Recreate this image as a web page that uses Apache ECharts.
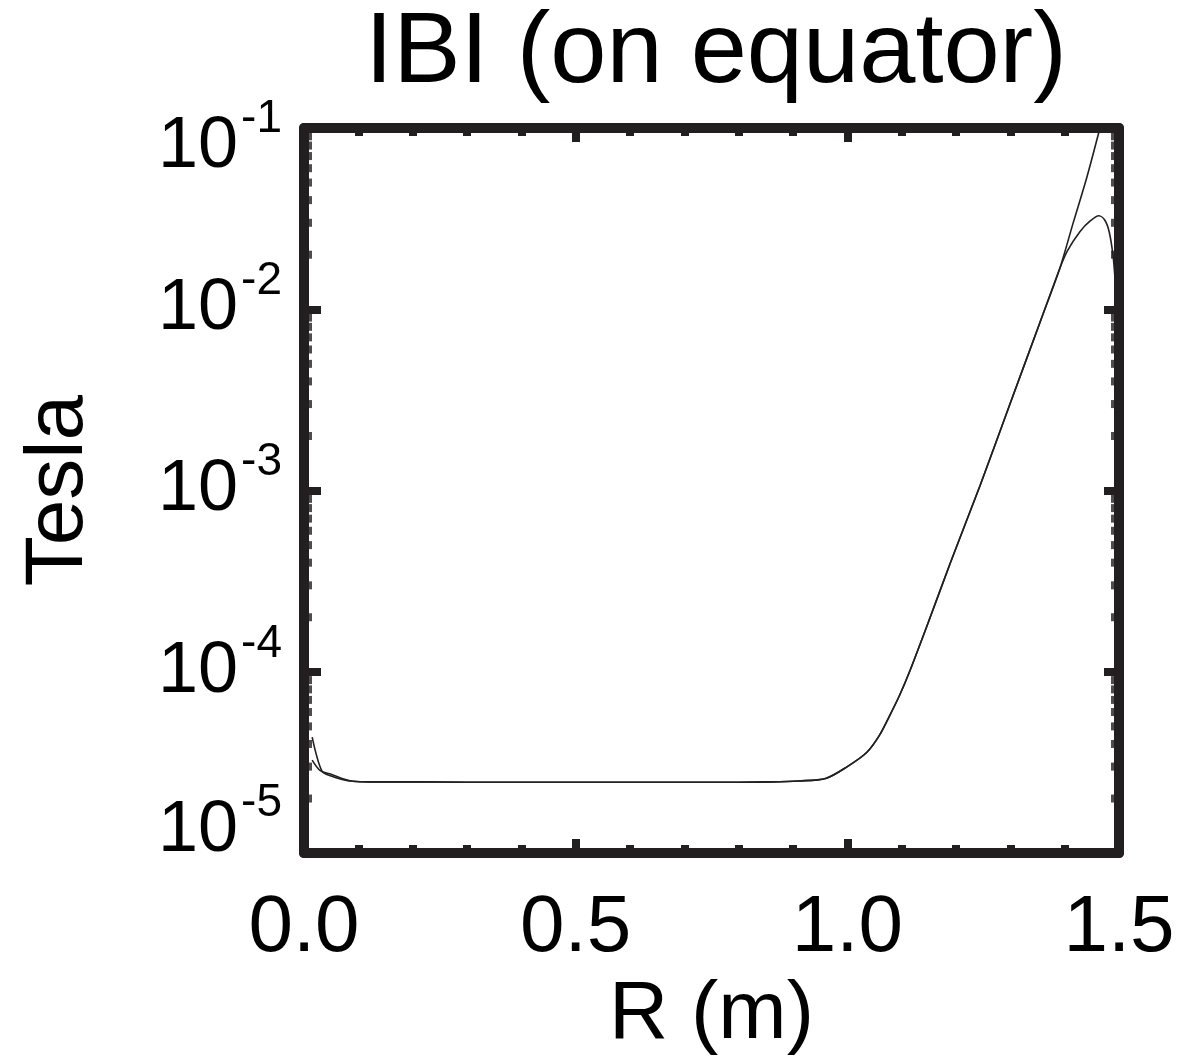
<!DOCTYPE html>
<html><head><meta charset="utf-8">
<script src="https://cdn.jsdelivr.net/npm/echarts@6/dist/echarts.min.js"></script>
<style>html,body{margin:0;padding:0;background:#fff}#c{width:1190px;height:1061px}</style>
</head><body><div id="c"></div>
<script>
// ---- data ----
const titleText = 'IBI (on equator)';
const xName = 'R (m)';
const yName = 'Tesla';
const xTickLabels = ['0.0', '0.5', '1.0', '1.5'];
const yTickExponents = ['-5', '-4', '-3', '-2', '-1'];
const yMinorTickValues = [
  2e-5,3e-5,4e-5,5e-5,6e-5,7e-5,8e-5,9e-5,
  2e-4,3e-4,4e-4,5e-4,6e-4,7e-4,8e-4,9e-4,
  2e-3,3e-3,4e-3,5e-3,6e-3,7e-3,8e-3,9e-3,
  2e-2,3e-2,4e-2,5e-2,6e-2,7e-2,8e-2,9e-2
];

const rA = [0.015,0.033,0.05,0.07,0.09,0.12,0.2,0.3,0.4,0.5,0.6,0.7,0.8,0.86,0.91,0.96,1.0,1.036,1.059,1.078,1.096,1.115,1.152,1.189,1.244,1.299,1.354,1.391,1.415,1.441,1.465,1.48];
const bA = [4.36e-5,2.83e-5,2.66e-5,2.55e-5,2.49e-5,2.47e-5,2.47e-5,2.46e-5,2.46e-5,2.46e-5,2.46e-5,2.46e-5,2.46e-5,2.47e-5,2.5e-5,2.58e-5,3.0e-5,3.6e-5,4.46e-5,5.74e-5,7.4e-5,1.01e-4,1.98e-4,3.95e-4,1.06e-3,2.98e-3,8.38e-3,0.0168,0.0295,0.0537,0.1,0.148];

const rB = [0.015,0.03,0.05,0.07,0.09,0.12,0.2,0.3,0.4,0.5,0.6,0.7,0.8,0.86,0.91,0.96,1.0,1.036,1.059,1.078,1.096,1.115,1.152,1.189,1.244,1.299,1.354,1.391,1.405,1.428,1.447,1.463,1.474,1.482,1.489,1.493];
const bB = [3.26e-5,2.85e-5,2.72e-5,2.58e-5,2.49e-5,2.47e-5,2.47e-5,2.46e-5,2.46e-5,2.46e-5,2.46e-5,2.46e-5,2.46e-5,2.47e-5,2.5e-5,2.58e-5,3.0e-5,3.6e-5,4.46e-5,5.74e-5,7.4e-5,1.01e-4,1.98e-4,3.95e-4,1.06e-3,2.98e-3,8.38e-3,0.0168,0.021,0.0268,0.0307,0.0328,0.031,0.0267,0.0198,0.0142];

// ---- styling ----
const FONT = '"Liberation Sans", Arial, Helvetica, sans-serif';
const INK = '#231f20';
const FRAME_W = 10;
const TICK_W = 8;

function pairs(xs, ys) { return xs.map((x, i) => [x, ys[i]]); }

const baseX = {
  type: 'value', min: 0, max: 1.5, interval: 0.5,
  axisLine: { show: true, onZero: false, lineStyle: { color: INK, width: FRAME_W } },
  axisTick: { show: true, inside: true, length: 14, lineStyle: { color: INK, width: TICK_W } },
  minorTick: { show: true, splitNumber: 5, length: 8, lineStyle: { color: INK, width: TICK_W } },
  splitLine: { show: false }, minorSplitLine: { show: false }
};

const rich = {};
const BF = 72, SF = 46, SUP = 56;
[['M', 0], ['T', 19], ['B', -22]].forEach(([k, d]) => {
  const pt = d > 0 ? 2 * d : 0, pb = d < 0 ? -2 * d : 0;
  rich['b' + k] = { fontSize: BF, fontFamily: FONT, color: '#000', padding: [pt, 0, pb, 0] };
  rich['s' + k] = { fontSize: SF, fontFamily: FONT, color: '#000', padding: [pt, 0, pb + SUP, 3] };
});

function yAxisDef(pos, withLabels) {
  return {
    type: 'log', logBase: 10, min: 1e-5, max: 1e-1, position: pos, offset: 0,
    axisLine: { show: true, onZero: false, lineStyle: { color: INK, width: FRAME_W } },
    axisTick: { show: true, inside: true, length: pos === 'left' ? 17 : 15, lineStyle: { color: INK, width: TICK_W } },
    axisLabel: withLabels ? {
      show: true, margin: 22,
      formatter: function (v) {
        const e = Math.round(Math.log10(v));
        const k = e === -1 ? 'T' : (e === -5 ? 'B' : 'M');
        const idx = e + 5;
        return '{b' + k + '|10}{s' + k + '|' + yTickExponents[idx] + '}';
      },
      rich: rich
    } : { show: false },
    splitLine: { show: false },
    name: withLabels ? yName : '',
    nameLocation: 'middle', nameGap: 204,
    nameTextStyle: { fontSize: 82, fontFamily: FONT, color: '#000' }
  };
}

const chart = echarts.init(document.getElementById('c'), null, { renderer: 'canvas' });
chart.setOption({
  animation: false,
  backgroundColor: '#fff',
  title: {
    text: titleText, left: 711, top: -1, textAlign: 'center',
    textStyle: { fontSize: 101, fontWeight: 'normal', fontFamily: FONT, color: '#000' }
  },
  grid: { left: 304, top: 128, width: 815, height: 730, containLabel: false },
  xAxis: [
    Object.assign({}, baseX, {
      position: 'bottom',
      axisLabel: { show: true, margin: 36, fontSize: 80, fontFamily: FONT, color: '#000',
        formatter: v => xTickLabels[Math.round(v / 0.5)] },
      name: xName, nameLocation: 'middle', nameGap: 120,
      nameTextStyle: { fontSize: 82, fontFamily: FONT, color: '#000', verticalAlign: 'top' }
    }),
    Object.assign({}, baseX, { position: 'top', axisLabel: { show: false } })
  ],
  yAxis: [yAxisDef('left', true), yAxisDef('right', false)],
  series: [
    { type: 'line', xAxisIndex: 0, yAxisIndex: 0, data: pairs(rA, bA), showSymbol: false, symbol: 'none',
      smooth: 0.3, clip: true, lineStyle: { color: INK, width: 1.6 }, z: 3 },
    { type: 'line', xAxisIndex: 0, yAxisIndex: 0, data: pairs(rB, bB), showSymbol: false, symbol: 'none',
      smooth: 0.3, clip: true, lineStyle: { color: INK, width: 1.6 }, z: 3 },
    // minor log ticks on left and right frame edges
    { type: 'scatter', xAxisIndex: 0, yAxisIndex: 0, data: yMinorTickValues.map(v => [0, v]),
      symbol: 'rect', symbolSize: [8, 8], symbolOffset: [4, 0], clip: false, silent: true,
      itemStyle: { color: INK }, z: 1 },
    { type: 'scatter', xAxisIndex: 0, yAxisIndex: 0, data: yMinorTickValues.map(v => [1.5, v]),
      symbol: 'rect', symbolSize: [8, 8], symbolOffset: [-4, 0], clip: false, silent: true,
      itemStyle: { color: INK }, z: 1 }
  ]
});
</script>
</body></html>
